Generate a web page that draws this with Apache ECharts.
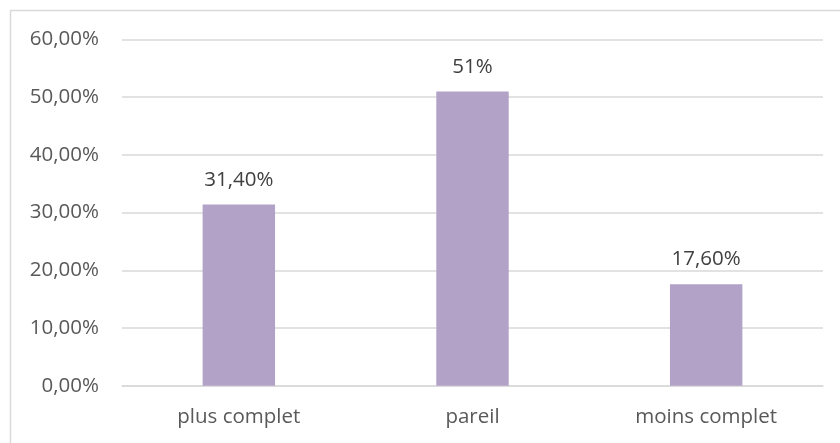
<!DOCTYPE html>
<html>
<head>
<meta charset="utf-8">
<script src="https://cdn.jsdelivr.net/npm/echarts@6/dist/echarts.min.js"></script>
<style>
html,body{margin:0;padding:0;background:#fff;}
#c{width:840px;height:443px;}
</style>
</head>
<body>
<div id="c"></div>
<script>
const categories = ['plus complet', 'pareil', 'moins complet'];
const values = [31.4, 51, 17.6];
const valueLabels = ['31,40%', '51%', '17,60%'];
const yTicks = ['0,00%', '10,00%', '20,00%', '30,00%', '40,00%', '50,00%', '60,00%'];

const chart = echarts.init(document.getElementById('c'), null, {renderer: 'canvas'});
const font = '"Open Sans", sans-serif';
chart.setOption({
  animation: false,
  backgroundColor: '#ffffff',
  graphic: [{
    type: 'rect',
    shape: {x: 10.5, y: 10.5, width: 840, height: 440},
    style: {fill: 'none', stroke: '#d9d9d9', lineWidth: 1.5},
    silent: true
  }],
  grid: {left: 122, right: 17, top: 39.5, bottom: 57.3},
  xAxis: {
    type: 'category',
    data: categories,
    axisLine: {lineStyle: {color: '#d9d9d9', width: 1.5}},
    axisTick: {show: false},
    axisLabel: {color: '#595959', fontFamily: font, fontSize: 20.5, margin: 21}
  },
  yAxis: {
    type: 'value',
    min: 0, max: 60, interval: 10,
    axisLine: {show: false},
    axisTick: {show: false},
    splitLine: {lineStyle: {color: '#d9d9d9', width: 1.5}},
    axisLabel: {
      color: '#595959', fontFamily: font, fontSize: 20.5, margin: 23,
      formatter: function (v) { return yTicks[Math.round(v / 10)]; }
    }
  },
  series: [{
    type: 'bar',
    data: values,
    barWidth: '31%',
    itemStyle: {color: '#b3a2c7'},
    label: {
      show: true, position: 'top', distance: 14,
      color: '#404040', fontFamily: font, fontSize: 20.5,
      formatter: function (p) { return valueLabels[p.dataIndex]; }
    }
  }]
});
</script>
</body>
</html>
